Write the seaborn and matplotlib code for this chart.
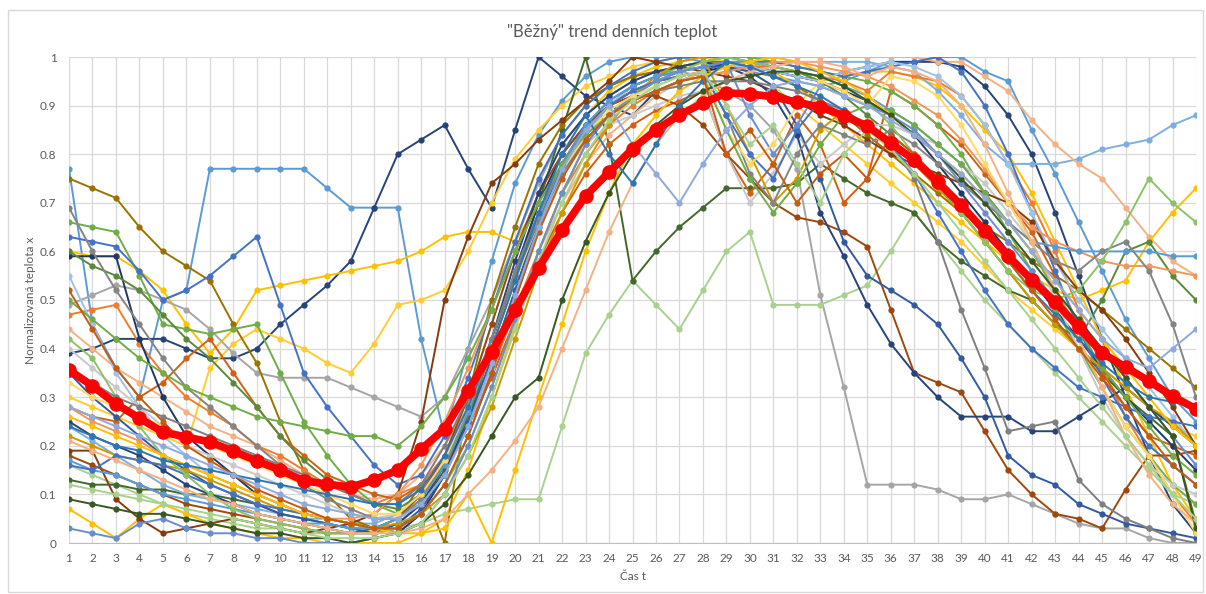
import numpy as np
import pandas as pd
import matplotlib
matplotlib.use("Agg")
import matplotlib.pyplot as plt
from matplotlib.patches import Rectangle
import seaborn as sns

# cas t = 1..49
CAS = list(range(1, 50))

# prumerny ("bezny") prubeh - cervena krivka
PRUMER = [0.356, 0.323, 0.286, 0.257, 0.228, 0.218, 0.208,
          0.189, 0.169, 0.150, 0.128, 0.121, 0.115, 0.130,
          0.150, 0.193, 0.235, 0.313, 0.393, 0.479, 0.566,
          0.644, 0.714, 0.763, 0.811, 0.850, 0.881, 0.905,
          0.926, 0.924, 0.918, 0.907, 0.897, 0.879, 0.858,
          0.823, 0.788, 0.743, 0.695, 0.642, 0.591, 0.541,
          0.496, 0.444, 0.391, 0.362, 0.333, 0.302, 0.276]

# jednotlive dny (v setinach)
s01 = [77, 45, 36, 30, 50, 52, 77, 77, 77, 77, 77, 73, 69, 69, 69, 42, 22, 40, 58, 74, 84,
       91, 96, 99, 100, 100, 100, 99, 98, 97, 96, 95, 94, 95, 97, 99, 99, 100, 100, 97, 95, 85,
       76, 66, 56, 46, 38, 30, 25]
s02 = [39, 40, 42, 42, 42, 40, 38, 38, 40, 45, 49, 53, 58, 69, 80, 83, 86, 77, 69, 85, 100,
       96, 92, 90, 88, 93, 95, 97, 99, 98, 97, 96, 95, 97, 98, 99, 99, 99, 98, 94, 88, 80,
       68, 55, 42, 30, 18, 8, 2]
s03 = [60, 59, 59, 56, 52, 45, 39, 44, 52, 53, 54, 55, 56, 57, 58, 60, 63, 64, 64, 62, 70,
       80, 88, 93, 96, 98, 99, 100, 100, 99, 98, 97, 95, 96, 97, 97, 96, 94, 90, 85, 80, 72,
       62, 52, 42, 32, 22, 12, 5]
s04 = [30, 28, 26, 24, 22, 20, 36, 41, 44, 42, 40, 37, 35, 41, 49, 50, 52, 60, 70, 79, 85,
       90, 94, 96, 98, 99, 100, 100, 99, 97, 94, 90, 86, 82, 78, 74, 70, 66, 62, 57, 52, 48,
       44, 40, 36, 32, 28, 24, 22]
s05 = [49, 51, 53, 52, 50, 48, 44, 39, 35, 34, 34, 34, 32, 30, 28, 26, 30, 40, 50, 62, 74,
       84, 90, 94, 96, 97, 97, 96, 93, 90, 85, 77, 51, 32, 12, 12, 12, 11, 9, 9, 10, 8,
       6, 4, 3, 3, 1, 0, 0]
s06 = [16, 14, 12, 10, 8, 6, 5, 4, 3, 3, 2, 2, 2, 2, 3, 4, 6, 7, 8, 9, 9,
       24, 39, 47, 54, 49, 44, 52, 60, 64, 49, 49, 49, 51, 53, 60, 68, 62, 56, 50, 45, 40,
       35, 30, 25, 20, 15, 10, 8]
s07 = [13, 12, 12, 11, 11, 10, 10, 9, 8, 6, 5, 4, 3, 3, 4, 8, 15, 25, 40, 55, 70,
       85, 100, 82, 54, 60, 65, 69, 73, 73, 73, 74, 78, 75, 72, 70, 68, 62, 58, 55, 52, 50,
       45, 40, 35, 30, 26, 22, 4]
s08 = [24, 21, 18, 15, 12, 10, 9, 8, 7, 6, 5, 5, 4, 4, 6, 10, 18, 30, 45, 60, 72,
       82, 88, 92, 95, 97, 98, 99, 100, 100, 100, 99, 99, 99, 99, 98, 97, 93, 88, 82, 78, 78,
       78, 79, 81, 82, 83, 86, 88]
s09 = [44, 40, 36, 33, 30, 27, 24, 22, 20, 17, 14, 12, 10, 9, 10, 14, 20, 28, 38, 48, 60,
       70, 78, 84, 88, 92, 95, 97, 98, 99, 100, 100, 100, 100, 100, 100, 100, 99, 99, 96, 93, 87,
       82, 78, 75, 69, 63, 58, 55]
s10 = [7, 4, 1, 5, 8, 6, 4, 3, 2, 1, 1, 0, 0, 0, 0, 2, 5, 15, 30, 45, 60,
       72, 82, 88, 92, 95, 97, 99, 100, 99, 97, 94, 90, 86, 82, 78, 74, 70, 66, 62, 58, 55,
       52, 50, 52, 54, 62, 68, 73]
s11 = [75, 73, 71, 65, 60, 57, 54, 45, 37, 25, 15, 10, 5, 3, 5, 12, 0, 30, 50, 65, 78,
       86, 91, 94, 96, 97, 98, 99, 99, 98, 96, 94, 91, 88, 84, 80, 76, 72, 68, 65, 62, 58,
       55, 52, 48, 44, 40, 36, 32]
s12 = [47, 48, 49, 41, 35, 30, 27, 24, 20, 18, 15, 12, 10, 8, 10, 12, 18, 25, 35, 48, 60,
       72, 80, 86, 90, 93, 95, 96, 97, 98, 98, 97, 96, 95, 93, 97, 96, 95, 92, 86, 78, 70,
       60, 48, 36, 26, 18, 10, 4]
s13 = [28, 26, 25, 30, 33, 38, 42, 35, 28, 22, 18, 14, 12, 10, 9, 12, 16, 24, 34, 46, 58,
       68, 76, 82, 86, 89, 91, 93, 80, 72, 78, 88, 82, 70, 75, 93, 90, 86, 82, 76, 70, 64,
       55, 45, 35, 28, 22, 20, 18]
s14 = [59, 59, 59, 42, 30, 22, 18, 14, 10, 8, 6, 5, 4, 3, 2, 6, 14, 26, 40, 56, 70,
       80, 86, 90, 93, 95, 96, 97, 98, 98, 97, 96, 95, 93, 91, 88, 84, 78, 72, 66, 60, 54,
       48, 42, 36, 30, 25, 20, 15]
s15 = [66, 65, 64, 55, 45, 44, 43, 44, 45, 35, 25, 18, 12, 8, 6, 8, 14, 24, 38, 52, 66,
       76, 84, 90, 94, 96, 98, 99, 100, 100, 99, 98, 97, 96, 95, 93, 90, 86, 80, 72, 64, 56,
       48, 40, 32, 24, 18, 12, 8]
s16 = [63, 62, 61, 56, 50, 52, 55, 59, 63, 49, 35, 28, 22, 16, 12, 14, 22, 34, 48, 62, 75,
       84, 90, 94, 97, 99, 100, 100, 100, 99, 99, 98, 97, 96, 97, 98, 99, 100, 97, 90, 80, 68,
       56, 44, 34, 26, 20, 16, 12]
s17 = [60, 57, 55, 52, 47, 42, 38, 33, 28, 22, 17, 13, 10, 8, 7, 10, 16, 26, 40, 55, 68,
       78, 85, 90, 93, 95, 97, 98, 99, 99, 98, 97, 95, 92, 88, 84, 80, 74, 68, 62, 56, 50,
       45, 42, 50, 60, 62, 55, 50]
s18 = [55, 45, 35, 28, 22, 18, 14, 12, 10, 8, 6, 5, 4, 3, 4, 8, 14, 24, 36, 50, 64,
       76, 84, 90, 94, 96, 97, 98, 98, 98, 97, 96, 95, 97, 98, 99, 98, 96, 92, 86, 78, 68,
       58, 50, 44, 38, 32, 26, 20]
s19 = [40, 36, 32, 28, 24, 20, 18, 16, 14, 12, 10, 8, 6, 5, 6, 10, 18, 28, 40, 54, 66,
       76, 82, 86, 88, 90, 92, 93, 80, 70, 76, 84, 78, 82, 86, 86, 84, 82, 78, 74, 68, 62,
       50, 40, 30, 22, 16, 12, 10]
s20 = [19, 19, 9, 5, 2, 3, 4, 5, 4, 3, 2, 3, 4, 6, 10, 25, 50, 63, 74, 78, 83,
       87, 91, 95, 100, 99, 98, 97, 96, 95, 93, 91, 88, 86, 83, 80, 78, 76, 74, 72, 70, 66,
       58, 52, 48, 42, 35, 28, 20]
s21 = [18, 16, 14, 12, 10, 8, 7, 6, 5, 4, 3, 2, 2, 3, 5, 10, 18, 30, 45, 60, 72,
       80, 86, 90, 92, 92, 90, 86, 80, 75, 70, 67, 66, 64, 61, 48, 35, 33, 31, 23, 15, 10,
       6, 5, 3, 11, 18, 18, 19]
s22 = [25, 22, 20, 18, 15, 12, 10, 8, 6, 5, 4, 3, 2, 2, 4, 8, 16, 28, 42, 58, 72,
       82, 88, 92, 95, 97, 98, 99, 98, 96, 92, 84, 68, 59, 49, 41, 35, 30, 26, 26, 26, 23,
       23, 26, 29, 32, 28, 24, 20]
s23 = [35, 30, 26, 22, 18, 15, 12, 10, 8, 6, 5, 4, 3, 2, 3, 7, 14, 25, 38, 52, 66,
       78, 86, 91, 94, 96, 97, 98, 98, 97, 94, 86, 75, 62, 55, 52, 49, 45, 38, 30, 18, 14,
       12, 8, 6, 4, 3, 2, 1]
s24 = [28, 25, 23, 21, 18, 16, 14, 12, 10, 8, 6, 5, 5, 6, 10, 16, 25, 36, 48, 60, 70,
       78, 84, 88, 91, 93, 95, 96, 97, 98, 99, 99, 98, 97, 96, 94, 91, 88, 83, 77, 70, 65,
       62, 60, 58, 57, 57, 56, 55]
s25 = [22, 20, 18, 17, 16, 15, 13, 11, 9, 7, 6, 5, 4, 3, 4, 6, 10, 18, 28, 42, 56,
       68, 78, 86, 92, 96, 99, 100, 90, 80, 70, 75, 85, 89, 86, 82, 78, 73, 68, 62, 56, 50,
       45, 40, 36, 32, 28, 25, 20]
s26 = [17, 15, 14, 12, 10, 9, 8, 7, 6, 5, 4, 4, 3, 3, 5, 9, 16, 27, 40, 54, 67,
       78, 86, 91, 94, 96, 97, 98, 99, 99, 98, 97, 96, 94, 92, 89, 86, 82, 78, 72, 66, 62,
       61, 60, 60, 60, 60, 59, 59]
s27 = [69, 60, 52, 45, 38, 32, 28, 24, 20, 16, 12, 9, 7, 5, 5, 9, 17, 28, 42, 56, 68,
       78, 85, 90, 93, 95, 96, 97, 88, 76, 70, 80, 86, 84, 82, 85, 82, 78, 74, 70, 66, 62,
       58, 56, 60, 62, 56, 45, 30]
s28 = [16, 15, 18, 17, 16, 14, 12, 10, 8, 7, 6, 5, 4, 3, 3, 6, 12, 22, 35, 50, 65,
       77, 85, 90, 93, 95, 96, 97, 88, 80, 75, 85, 91, 88, 85, 82, 76, 68, 60, 52, 45, 40,
       36, 32, 30, 28, 26, 25, 24]
s29 = [42, 38, 30, 24, 18, 14, 10, 7, 5, 4, 3, 2, 2, 2, 3, 6, 12, 20, 32, 46, 60,
       72, 82, 88, 92, 95, 97, 99, 100, 99, 98, 97, 96, 94, 91, 86, 80, 74, 68, 62, 56, 52,
       50, 52, 58, 66, 75, 70, 66]
s30 = [3, 2, 1, 4, 5, 3, 2, 2, 1, 1, 0, 0, 0, 1, 2, 4, 10, 20, 32, 46, 60,
       72, 82, 88, 92, 95, 97, 98, 99, 88, 80, 86, 94, 92, 90, 88, 85, 80, 74, 68, 62, 56,
       50, 45, 40, 34, 28, 22, 16]
s31 = [33, 30, 28, 26, 24, 22, 20, 18, 16, 14, 12, 10, 8, 6, 6, 10, 17, 28, 40, 54, 66,
       76, 84, 89, 92, 94, 96, 97, 85, 78, 82, 90, 95, 93, 90, 96, 95, 92, 86, 78, 70, 62,
       52, 42, 32, 24, 18, 10, 2]
s32 = [50, 46, 42, 38, 35, 32, 30, 28, 26, 25, 24, 23, 22, 22, 20, 24, 30, 38, 48, 60, 70,
       78, 84, 88, 91, 93, 95, 96, 85, 75, 68, 74, 82, 88, 90, 89, 86, 82, 78, 72, 66, 60,
       52, 44, 36, 30, 24, 18, 14]
s33 = [26, 24, 22, 20, 18, 16, 14, 12, 10, 8, 6, 5, 4, 3, 2, 2, 3, 10, 0, 15, 30,
       45, 60, 72, 82, 88, 93, 96, 98, 99, 100, 99, 97, 95, 92, 88, 84, 80, 76, 71, 66, 60,
       54, 48, 42, 36, 30, 24, 20]
s34 = [21, 19, 17, 15, 13, 11, 9, 8, 6, 5, 4, 3, 2, 2, 2, 3, 5, 10, 15, 21, 28,
       40, 52, 64, 74, 82, 88, 92, 95, 97, 98, 99, 99, 98, 96, 98, 97, 95, 90, 82, 72, 62,
       52, 42, 32, 22, 14, 8, 4]
s35 = [9, 8, 7, 6, 6, 5, 4, 3, 2, 2, 1, 1, 0, 1, 2, 4, 8, 14, 22, 30, 34,
       50, 62, 72, 80, 86, 90, 93, 95, 96, 97, 97, 96, 94, 91, 88, 84, 80, 75, 70, 64, 58,
       52, 46, 40, 34, 28, 22, 3]
s36 = [36, 33, 30, 28, 26, 24, 22, 20, 18, 16, 14, 12, 10, 8, 8, 12, 20, 30, 42, 55, 66,
       76, 83, 88, 91, 93, 94, 95, 95, 95, 94, 93, 91, 89, 86, 82, 75, 62, 48, 36, 23, 24,
       25, 13, 8, 5, 3, 1, 0]
s37 = [24, 22, 20, 19, 17, 16, 15, 14, 13, 12, 11, 10, 9, 8, 8, 11, 18, 28, 40, 54, 68,
       80, 88, 80, 74, 82, 90, 95, 99, 98, 96, 94, 92, 89, 86, 82, 78, 74, 69, 64, 58, 52,
       47, 42, 37, 33, 30, 29, 28]
s38 = [52, 44, 36, 30, 25, 20, 17, 14, 11, 9, 7, 5, 4, 3, 3, 6, 12, 22, 35, 50, 64,
       75, 83, 88, 91, 93, 95, 96, 80, 85, 78, 70, 76, 80, 75, 84, 80, 75, 70, 64, 58, 52,
       46, 40, 34, 28, 22, 16, 12]
s39 = [12, 11, 10, 9, 8, 7, 6, 5, 4, 3, 2, 1, 1, 1, 2, 4, 10, 18, 30, 44, 58,
       70, 80, 87, 91, 94, 96, 97, 90, 82, 86, 78, 70, 80, 85, 81, 76, 70, 64, 58, 52, 46,
       40, 34, 28, 22, 16, 10, 5]
s40 = [28, 26, 24, 22, 20, 18, 16, 14, 12, 10, 8, 7, 6, 5, 5, 8, 14, 24, 37, 51, 65,
       77, 85, 90, 82, 76, 70, 78, 85, 90, 94, 95, 94, 92, 90, 87, 84, 80, 76, 71, 66, 60,
       54, 48, 42, 38, 36, 40, 44]

DNY = [s01, s02, s03, s04, s05, s06, s07, s08, s09, s10,
       s11, s12, s13, s14, s15, s16, s17, s18, s19, s20,
       s21, s22, s23, s24, s25, s26, s27, s28, s29, s30,
       s31, s32, s33, s34, s35, s36, s37, s38, s39, s40]

# barvy jako v Excelu
BARVY = ["#5B9BD5", "#264478", "#FFC000", "#FFCD33", "#A5A5A5", "#A9D18E", "#43682B", "#7CAFDD",
         "#F4B183", "#FFC000", "#997300", "#ED7D31", "#D26012", "#203864", "#70AD47", "#4472C4",
         "#5A8A39", "#9DC3E6", "#C9C9C9", "#843C0C", "#9E480E", "#264478", "#335AA1", "#F1975A",
         "#CC9A00", "#5B9BD5", "#848484", "#4472C4", "#8CC168", "#698ED0", "#FFD966", "#70AD47",
         "#FFC000", "#F4B183", "#385723", "#7F7F7F", "#2E75B6", "#C55A11", "#A9D18E", "#8FAADC"]

rows = []
for i, den in enumerate(DNY):
    for t, v in zip(CAS, den):
        rows.append({"den": f"d{i + 1}", "t": t, "x": v / 100})
df = pd.DataFrame(rows)
paleta = {f"d{i + 1}": BARVY[i] for i in range(len(DNY))}

df_prumer = pd.DataFrame({"t": CAS, "x": PRUMER})

sns.set_style("white")
plt.rcParams["font.family"] = ["Lato", "DejaVu Sans"]

fig = plt.figure(figsize=(12.06, 5.94), dpi=100)
ax = fig.add_axes([69 / 1206, 1 - 543 / 594, (1196 - 69) / 1206, (543 - 57) / 594])

sns.lineplot(data=df, x="t", y="x", hue="den", palette=paleta, sort=False,
             marker="o", markersize=4.5, markeredgewidth=0, linewidth=1.4,
             legend=False, ax=ax, zorder=2)
sns.lineplot(data=df_prumer, x="t", y="x", color="#FF0000", marker="o",
             markersize=10.5, markeredgewidth=0, linewidth=5.5, ax=ax, zorder=5)

ax.set_xlim(1, 49)
ax.set_ylim(0, 1)
ax.set_xticks(CAS)
ax.set_xticklabels([str(t) for t in CAS])
yt = [round(v * 0.1, 1) for v in range(11)]
ax.set_yticks(yt)
ax.set_yticklabels(["0" if v == 0 else ("1" if v == 1 else f"{v:.1f}") for v in yt])
ax.grid(True, color="#D9D9D9", linewidth=0.9)
ax.set_axisbelow(True)
for s in ["top", "right", "left"]:
    ax.spines[s].set_visible(False)
ax.spines["bottom"].set_color("#BFBFBF")
ax.tick_params(axis="both", length=0, labelsize=8.5, labelcolor="#595959")
ax.tick_params(axis="x", pad=7)
ax.tick_params(axis="y", pad=9)

ax.set_xlabel("Čas t", fontsize=8.5, color="#595959", labelpad=5)
ax.set_ylabel("Normalizovaná teplota x", fontsize=8.5, color="#595959", labelpad=3)
fig.text(0.5075, 1 - 32 / 594, "\"Běžný\" trend denních teplot", ha="center", va="center",
         fontsize=12, color="#595959")

# ramecek grafu
fig.patches.append(Rectangle((8 / 1206, 2 / 594), 1195 / 1206, 582 / 594,
                             transform=fig.transFigure, fill=False,
                             edgecolor="#D9D9D9", linewidth=1))

fig.savefig("out.png", dpi=100)
